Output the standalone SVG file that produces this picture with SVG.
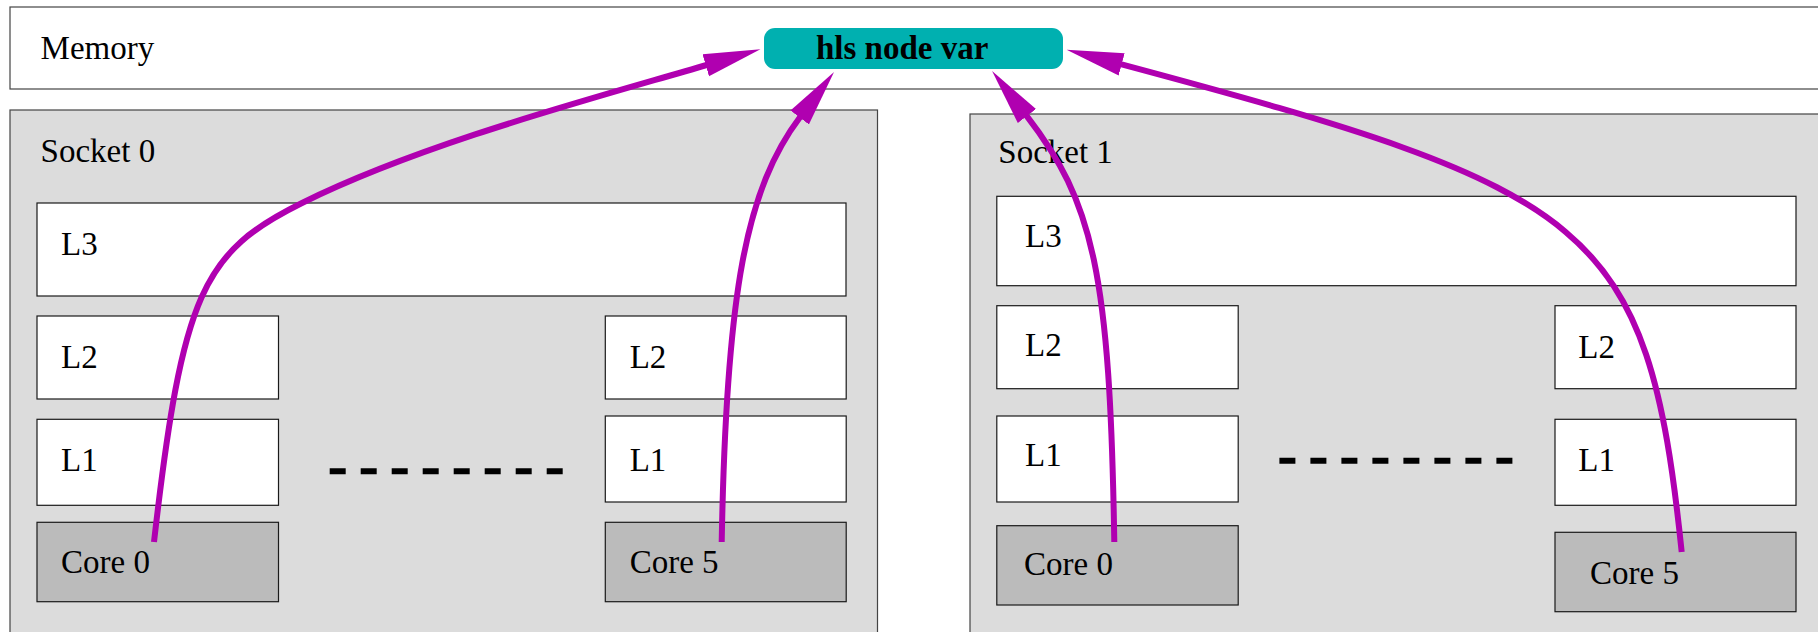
<svg xmlns="http://www.w3.org/2000/svg" width="1818" height="632" viewBox="0 0 1818 632">
<style>
.lbl{font-family:"Liberation Serif","Times New Roman",serif;font-size:33px;fill:#000}
.bold{font-weight:bold}
.box{fill:#fff;stroke:#1a1a1a;stroke-width:1.2}
.sock{fill:#dcdcdc;stroke:#444;stroke-width:1.2}
.mem{fill:#fff;stroke:#444;stroke-width:1.2}
.core{fill:#bbbbbb;stroke:#1a1a1a;stroke-width:1.2}
.dots{stroke:#000;stroke-width:6;stroke-dasharray:16 15;fill:none}
.arr{fill:none;stroke:#b000b0;stroke-width:6;marker-end:url(#head)}
</style>
<defs>
<marker id="head" markerUnits="userSpaceOnUse" viewBox="0 -13 60 26" markerWidth="60" markerHeight="26" refX="1" refY="0" orient="auto">
<path d="M0,-11.5 L57,0 L0,11.5 Z" fill="#b000b0"/>
</marker>
</defs>
<g id="memory">
<rect class="mem" x="10" y="7" width="1830" height="82"/>
<text class="lbl" x="40.6" y="59.3">Memory</text>
</g>
<g id="hls-node-var">
<rect x="764" y="28" width="299" height="41" rx="11" ry="11" fill="#00b0b0"/>
<text class="lbl bold" x="816" y="59">hls node var</text>
</g>
<g id="socket0">
<rect class="sock" x="10" y="110" width="867.5" height="560"/>
<text class="lbl" x="40.6" y="161.5">Socket 0</text>
</g>
<g id="s0-l3">
<rect class="box" x="37" y="203" width="809" height="93"/>
<text class="lbl" x="61" y="255">L3</text>
</g>
<g id="s0-c0-l2">
<rect class="box" x="37" y="316" width="241.5" height="83"/>
<text class="lbl" x="61" y="367.7">L2</text>
</g>
<g id="s0-c0-l1">
<rect class="box" x="37" y="419.3" width="241.5" height="86"/>
<text class="lbl" x="61" y="470.7">L1</text>
</g>
<g id="s0-core0">
<rect class="core" x="37" y="522.3" width="241.5" height="79.4"/>
<text class="lbl" x="61" y="573.3">Core 0</text>
</g>
<g id="s0-c5-l2">
<rect class="box" x="605.3" y="316" width="240.9" height="83"/>
<text class="lbl" x="629.7" y="367.7">L2</text>
</g>
<g id="s0-c5-l1">
<rect class="box" x="605.3" y="416" width="240.9" height="86"/>
<text class="lbl" x="629.7" y="470.7">L1</text>
</g>
<g id="s0-core5">
<rect class="core" x="605.3" y="522.3" width="240.9" height="79.4"/>
<text class="lbl" x="629.7" y="573.3">Core 5</text>
</g>
<g id="s0-ellipsis">
<line class="dots" x1="329.7" y1="471.2" x2="562.7" y2="471.2"/>
</g>
<g id="socket1">
<rect class="sock" x="970" y="114" width="880" height="560"/>
<text class="lbl" x="998.3" y="163">Socket 1</text>
</g>
<g id="s1-l3">
<rect class="box" x="996.8" y="196.3" width="799.2" height="89.4"/>
<text class="lbl" x="1025" y="246.5">L3</text>
</g>
<g id="s1-c0-l2">
<rect class="box" x="996.8" y="305.7" width="241.4" height="83"/>
<text class="lbl" x="1025" y="355.5">L2</text>
</g>
<g id="s1-c0-l1">
<rect class="box" x="996.8" y="416" width="241.4" height="86"/>
<text class="lbl" x="1025" y="466">L1</text>
</g>
<g id="s1-core0">
<rect class="core" x="996.8" y="525.7" width="241.4" height="79.3"/>
<text class="lbl" x="1024" y="575.3">Core 0</text>
</g>
<g id="s1-c5-l2">
<rect class="box" x="1555" y="305.7" width="241" height="83"/>
<text class="lbl" x="1578.3" y="357.7">L2</text>
</g>
<g id="s1-c5-l1">
<rect class="box" x="1555" y="419.3" width="241" height="86"/>
<text class="lbl" x="1578.3" y="470.7">L1</text>
</g>
<g id="s1-core5">
<rect class="core" x="1555" y="532.3" width="241" height="79.4"/>
<text class="lbl" x="1590" y="584">Core 5</text>
</g>
<g id="s1-ellipsis">
<line class="dots" x1="1279.4" y1="460.8" x2="1512.4" y2="460.8"/>
</g>
<g id="connectors">
<path class="arr" d="M154,542 C182.5,292 203.4,251.8 302,203 C422,143.6 590,99.3 706.7,65"/>
<path class="arr" d="M721.7,542 C726.2,292 746.1,188.5 800.3,116.7"/>
<path class="arr" d="M1114.3,542 C1110,272 1093.4,202.2 1026.3,115.3"/>
<path class="arr" d="M1681.7,552 C1647.6,222.3 1593.3,190.8 1120.7,64.2"/>
</g>
</svg>
